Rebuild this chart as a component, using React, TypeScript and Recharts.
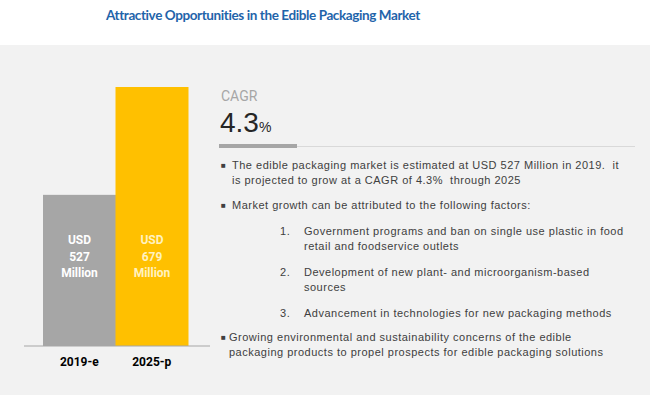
import { Bar, BarChart, LabelList, XAxis, YAxis } from "recharts";

const categories = ["2019-e", "2025-p"];
const values = [527, 679];
const valueLabels = ["527", "679"];
const barColors = ["#a6a6a6", "#ffc000"];
const labelColors = ["#ffffff", "#fff2c0"];
const cagr = "4.3";

const bulletOne =
  "The edible packaging market is estimated at USD 527 Million in 2019.  it is projected to grow at a CAGR of 4.3%  through 2025";
const bulletTwo = "Market growth can be attributed to the following factors:";
const factors = [
  "Government programs and ban on single use plastic in food retail and foodservice outlets",
  "Development of new plant- and microorganism-based sources",
  "Advancement in technologies for new packaging methods",
];
const bulletThree =
  "Growing environmental and sustainability concerns of the edible packaging products to propel prospects for edible packaging solutions";

const data = categories.map((c, i) => ({ name: c, value: values[i], idx: i }));

const BODY_FONT = "'Liberation Sans', Arial, sans-serif";
const NARROW_FONT = "'Liberation Sans Narrow', Roboto, sans-serif";
const TEXT_COLOR = "#404040";

function BarText(props: any): React.JSX.Element {
  const { x, y, width, height, index } = props;
  const cx = x + width / 2;
  const bottom = y + height;
  const fill = labelColors[index];
  const style = { fontFamily: NARROW_FONT, fontWeight: 700, fontSize: 12 };
  return (
    <g>
      <text x={cx} y={bottom - 102} textAnchor="middle" fill={fill} style={style}>USD</text>
      <text x={cx} y={bottom - 85} textAnchor="middle" fill={fill} style={style}>{valueLabels[index]}</text>
      <text x={cx} y={bottom - 69} textAnchor="middle" fill={fill} style={style}>Million</text>
    </g>
  );
}

export default function App(): React.JSX.Element {
  const para = {
    fontFamily: BODY_FONT,
    fontSize: 11,
    letterSpacing: 0.5,
    color: TEXT_COLOR,
    lineHeight: "15px",
    whiteSpace: "pre-wrap" as const,
    position: "absolute" as const,
  };
  const marker = { position: "absolute" as const, left: 0, top: 0, fontSize: 8, letterSpacing: 0 };
  return (
    <div style={{ position: "absolute", left: 0, top: 0, width: 650, height: 395, background: "#ffffff", overflow: "hidden" }}>
      <div
        style={{
          position: "absolute",
          left: 0,
          top: 7,
          width: 526,
          textAlign: "center",
          fontFamily: "Lato, sans-serif",
          fontWeight: 700,
          fontSize: 13.5,
          letterSpacing: -0.4,
          color: "#1f64aa",
          whiteSpace: "nowrap",
        }}
      >
        Attractive Opportunities in the Edible Packaging Market
      </div>
      <div style={{ position: "absolute", left: 0, top: 45, width: 650, height: 350, background: "#f2f2f2" }} />
      <div style={{ position: "absolute", left: 0, top: 0 }}>
        <BarChart
          width={212}
          height={395}
          data={data}
          margin={{ top: 87, right: 2, left: 24, bottom: 19 }}
          barCategoryGap={0}
          barGap={0}
        >
          <XAxis
            dataKey="name"
            height={30}
            padding={{ left: 19, right: 22 }}
            tickLine={false}
            tickMargin={5}
            stroke="#a6a6a6"
            tick={{ fill: "#000000", fontSize: 12, fontWeight: 700, fontFamily: NARROW_FONT }}
          />
          <YAxis hide domain={[314, 679]} allowDataOverflow />
          <Bar dataKey="value" isAnimationActive={false} shape={(p: any) => (
            <rect x={p.x} y={p.y} width={p.width} height={p.height} fill={barColors[p.index]} />
          )}>
            <LabelList dataKey="value" content={<BarText />} />
          </Bar>
        </BarChart>
      </div>

      <div style={{ position: "absolute", left: 221, top: 88, lineHeight: "16px", fontFamily: NARROW_FONT, fontSize: 14, color: "#a6a6a6" }}>
        CAGR
      </div>
      <div
        style={{
          position: "absolute",
          left: 220,
          top: 109,
          lineHeight: "27px",
          fontFamily: BODY_FONT,
          fontSize: 28,
          color: "#262626",
          whiteSpace: "nowrap",
        }}
      >
        {cagr}
        <span style={{ fontSize: 14 }}>%</span>
      </div>
      <div style={{ position: "absolute", left: 219, top: 146, width: 416, height: 1, background: "#d9d9d9" }} />
      <div style={{ position: "absolute", left: 219, top: 144, width: 78, height: 4, background: "#a6a6a6" }} />

      <div style={{ ...para, left: 221, top: 158, width: 410 }}>
        <span style={marker}>■</span>
        <div style={{ marginLeft: 11, width: 396 }}>{bulletOne}</div>
      </div>
      <div style={{ ...para, left: 221, top: 198, width: 410 }}>
        <span style={marker}>■</span>
        <div style={{ marginLeft: 11 }}>{bulletTwo}</div>
      </div>
      {factors.map((f, i) => (
        <div key={i} style={{ ...para, left: 280, top: [224, 265, 306][i], width: 350 }}>
          <span style={{ position: "absolute", left: 0, top: 0 }}>{i + 1}.</span>
          <div style={{ marginLeft: 24, width: 323 }}>{f}</div>
        </div>
      ))}
      <div style={{ ...para, left: 221, top: 330, width: 400 }}>
        <span style={marker}>■</span>
        <div style={{ marginLeft: 8, width: 385 }}>{bulletThree}</div>
      </div>
    </div>
  );
}
